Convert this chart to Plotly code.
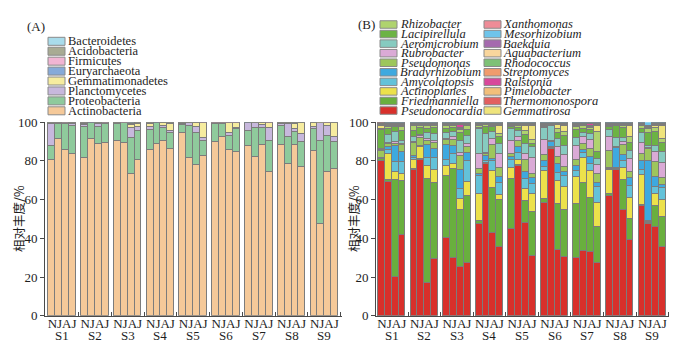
import plotly.graph_objects as go

# ---------------- data ----------------
sites = ["S1", "S2", "S3", "S4", "S5", "S6", "S7", "S8", "S9"]
months = "NJAJ"

# Panel A: phyla (legend order, top -> bottom)
phyla = ["Bacteroidetes", "Acidobacteria", "Firmicutes", "Euryarchaeota",
         "Gemmatimonadetes", "Planctomycetes", "Proteobacteria", "Actinobacteria"]
Actinobacteria = [80.5, 91.3, 85.7, 83.5, 81.4, 91.3, 88.7, 89.2, 90.3, 89.2, 73.0, 80.3,
                  85.4, 88.5, 90.3, 86.1, 94.4, 81.4, 77.9, 82.3, 89.7, 92.2, 85.4, 84.7,
                  87.8, 81.7, 88.3, 74.1, 88.2, 78.3, 88.3, 76.7, 84.9, 47.5, 74.1, 75.7]
Proteobacteria = [7.3, 7.7, 13.3, 14.4, 16.2, 8.0, 8.9, 9.8, 8.5, 10.1, 18.7, 14.8,
                  10.4, 10.8, 6.6, 8.4, 4.0, 16.5, 16.5, 7.8, 9.4, 6.9, 7.6, 11.5,
                  7.5, 15.3, 8.7, 16.3, 9.7, 13.9, 6.5, 13.0, 11.3, 42.6, 18.9, 14.0]
Planctomycetes = [11.0, 0.2, 0.4, 0.9, 1.0, 0.2, 1.2, 0.3, 0.5, 0.2, 5.3, 2.3,
                  1.8, 0.2, 1.0, 0.8, 0.6, 1.4, 3.2, 1.7, 0.3, 0.3, 1.4, 0.6,
                  4.3, 2.3, 1.4, 6.6, 1.0, 6.9, 1.7, 4.2, 1.4, 9.5, 4.9, 2.5]
Gemmatimonadetes = [0.7, 0.2, 0.2, 0.5, 0.6, 0.2, 0.6, 0.3, 0.2, 0.1, 1.6, 1.4,
                    1.2, 0.2, 1.4, 3.7, 0.4, 0.2, 1.7, 7.8, 0.2, 0.2, 5.2, 2.8,
                    0.1, 0.2, 1.1, 2.6, 0.6, 0.4, 2.7, 5.4, 1.8, 0.2, 1.7, 7.1]
Euryarchaeota = [0.1, 0.1, 0.1, 0.2, 0.2, 0.1, 0.1, 0.1, 0.1, 0.1, 0.3, 0.3,
                 0.3, 0.1, 0.2, 0.2, 0.1, 0.1, 0.2, 0.1, 0.1, 0.1, 0.1, 0.1,
                 0.1, 0.1, 0.1, 0.1, 0.1, 0.1, 0.2, 0.2, 0.1, 0.1, 0.1, 0.2]
Firmicutes = [0.1, 0.1, 0.1, 0.1, 0.2, 0.1, 0.1, 0.1, 0.1, 0.1, 0.3, 0.2,
              0.2, 0.1, 0.1, 0.2, 0.1, 0.1, 0.1, 0.1, 0.1, 0.1, 0.1, 0.1,
              0.1, 0.1, 0.1, 0.1, 0.1, 0.1, 0.2, 0.1, 0.1, 0.0, 0.1, 0.1]
Acidobacteria = [0.2, 0.3, 0.1, 0.3, 0.3, 0.1, 0.3, 0.1, 0.2, 0.1, 0.5, 0.5,
                 0.5, 0.1, 0.3, 0.4, 0.3, 0.2, 0.3, 0.1, 0.1, 0.1, 0.1, 0.1,
                 0.1, 0.2, 0.2, 0.1, 0.2, 0.2, 0.3, 0.3, 0.3, 0.1, 0.1, 0.3]
Bacteroidetes = [0.1, 0.1, 0.1, 0.1, 0.1, 0.0, 0.1, 0.1, 0.1, 0.1, 0.3, 0.2,
                 0.2, 0.0, 0.1, 0.2, 0.1, 0.1, 0.1, 0.1, 0.1, 0.1, 0.1, 0.1,
                 0.0, 0.1, 0.1, 0.1, 0.1, 0.1, 0.1, 0.1, 0.1, 0.0, 0.1, 0.1]

# Panel B: genera (legend columns, top -> bottom)
genera_col1 = ["Rhizobacter", "Lacipirellula", "Aeromicrobium", "Rubrobacter", "Pseudomonas",
               "Bradyrhizobium", "Amycolatopsis", "Actinoplanes", "Friedmanniella", "Pseudonocardia"]
genera_col2 = ["Xanthomonas", "Mesorhizobium", "Baekduia", "Aquabacterium", "Rhodococcus",
               "Streptomyces", "Ralstonia", "Pimelobacter", "Thermomonospora", "Gemmatirosa"]

Pseudonocardia = [81.2, 69.5, 20.0, 41.9, 75.2, 80.9, 16.9, 29.5, 40.7, 30.3, 25.2, 27.2,
                  47.6, 78.6, 42.8, 35.2, 45.0, 77.8, 47.6, 30.3, 57.9, 86.7, 33.8, 30.3,
                  29.5, 33.8, 32.9, 26.9, 61.7, 75.5, 54.8, 39.3, 57.4, 47.6, 45.5, 35.5]
Friedmanniella = [0.9, 1.4, 50.0, 28.4, 0.5, 0.5, 54.0, 39.3, 32.8, 46.6, 29.0, 35.0,
                  1.5, 0.3, 23.4, 24.5, 25.9, 0.5, 11.2, 22.4, 1.7, 0.2, 24.1, 24.1,
                  27.6, 35.3, 28.4, 19.0, 1.2, 0.3, 16.0, 10.9, 0.5, 0.3, 10.7, 15.2]
Actinoplanes = [0.3, 13.3, 4.3, 3.6, 4.7, 6.3, 6.4, 6.7, 5.2, 2.6, 6.0, 6.9,
                14.0, 0.3, 9.0, 2.5, 5.7, 2.5, 6.4, 9.5, 14.7, 0.3, 12.0, 12.0,
                13.8, 12.9, 13.8, 12.0, 12.4, 0.3, 6.0, 11.2, 15.5, 0.3, 6.0, 9.0]
Amycolatopsis = [0.3, 2.0, 5.0, 6.4, 1.0, 0.3, 4.5, 6.0, 3.4, 5.0, 5.0, 11.2,
                 9.5, 1.2, 5.2, 6.0, 4.0, 4.0, 5.0, 5.0, 2.0, 0.5, 4.0, 6.0,
                 3.4, 3.0, 4.0, 8.6, 0.5, 0.5, 4.0, 6.0, 2.5, 0.5, 3.6, 6.0]
Bradyrhizobium = [0.3, 1.7, 8.6, 5.2, 1.2, 0.3, 6.5, 5.0, 7.5, 4.5, 10.0, 4.0,
                  1.0, 2.5, 1.0, 3.0, 1.7, 3.0, 4.0, 2.8, 3.0, 2.5, 4.6, 2.0,
                  2.6, 1.5, 3.5, 1.7, 0.5, 10.0, 3.0, 4.3, 5.0, 31.5, 5.0, 1.7]
Pseudomonas = [3.6, 1.5, 1.0, 3.4, 6.5, 4.0, 2.0, 3.0, 2.6, 3.0, 7.0, 3.0,
               2.6, 1.0, 6.9, 5.0, 1.5, 3.0, 6.0, 2.0, 3.0, 0.3, 4.0, 2.5,
               3.0, 3.0, 4.0, 5.0, 9.0, 0.5, 5.0, 3.0, 3.5, 6.0, 7.8, 3.5]
Rubrobacter = [0.3, 0.5, 0.8, 0.5, 0.8, 1.0, 1.0, 1.0, 1.0, 1.5, 1.7, 2.0,
               7.8, 0.6, 3.4, 7.0, 6.9, 2.0, 3.0, 8.6, 7.8, 0.3, 5.2, 6.0,
               6.9, 3.5, 5.0, 4.3, 7.0, 0.3, 1.5, 7.0, 5.5, 0.5, 5.2, 7.8]
Aeromicrobium = [0.5, 4.3, 5.2, 1.5, 2.5, 0.4, 3.0, 3.5, 3.0, 2.5, 6.0, 4.0,
                 12.9, 10.0, 3.4, 5.0, 6.0, 3.0, 5.0, 5.2, 6.0, 7.8, 4.0, 5.0,
                 4.3, 2.5, 3.0, 3.0, 4.0, 4.8, 2.5, 4.0, 5.5, 1.0, 3.0, 6.0]
Lacipirellula = [10.0, 3.4, 2.6, 5.2, 3.0, 4.0, 2.5, 3.0, 2.0, 2.5, 4.0, 3.0,
                 0.5, 3.4, 2.6, 4.0, 1.0, 2.0, 5.0, 2.0, 0.5, 0.3, 3.0, 5.0,
                 4.3, 2.0, 2.0, 4.0, 1.5, 6.0, 5.0, 4.0, 2.0, 7.0, 6.9, 4.3]
Rhizobacter = [0.5, 1.0, 0.5, 2.5, 2.5, 1.0, 1.5, 1.3, 1.5, 1.0, 1.5, 2.0,
               1.0, 1.0, 0.5, 1.5, 0.8, 1.0, 2.0, 2.0, 0.5, 0.3, 2.0, 2.0,
               1.5, 1.5, 1.0, 10.0, 0.5, 0.5, 1.0, 3.0, 1.5, 2.0, 2.0, 2.0]
Gemmatirosa = [1.7, 0.4, 0.3, 0.4, 0.3, 0.3, 0.3, 0.3, 0.3, 0.3, 0.5, 0.3,
               0.3, 0.2, 0.3, 4.0, 0.3, 0.2, 2.5, 7.0, 0.3, 0.2, 2.0, 3.0,
               0.5, 0.3, 0.5, 3.0, 0.3, 0.2, 0.3, 6.0, 0.3, 0.2, 1.5, 6.9]
Thermomonospora = [0.2, 0.3, 0.2, 0.2, 0.2, 0.1, 0.2, 0.2, 0.2, 0.2, 0.3, 0.2,
                   0.2, 0.2, 0.3, 0.2, 0.2, 0.2, 0.3, 0.2, 0.3, 0.1, 0.2, 0.3,
                   0.2, 0.2, 0.3, 0.2, 0.2, 0.1, 0.2, 0.2, 0.2, 0.2, 0.2, 0.3]
Pimelobacter = [0.3, 0.2, 0.2, 0.3, 0.2, 0.2, 0.2, 0.2, 0.3, 0.2, 0.2, 0.2,
                0.3, 0.2, 0.2, 0.3, 0.2, 0.2, 0.3, 0.3, 0.2, 0.2, 0.2, 0.3,
                0.3, 0.2, 0.2, 0.3, 0.2, 0.2, 0.3, 0.2, 0.3, 0.1, 0.2, 0.2]
Ralstonia = [0.3, 0.2, 0.1, 0.2, 0.1, 0.2, 0.1, 0.1, 0.2, 0.1, 2.0, 0.2,
             0.1, 0.1, 0.2, 0.3, 0.1, 0.1, 0.2, 0.2, 0.1, 0.1, 0.2, 0.4,
             0.2, 0.2, 1.0, 0.4, 0.1, 0.1, 0.1, 0.3, 0.1, 0.1, 0.2, 0.3]
Streptomyces = [0.2, 0.2, 0.2, 0.2, 0.2, 0.1, 0.1, 0.2, 0.1, 0.2, 0.2, 0.2,
                0.2, 0.1, 0.2, 0.2, 0.2, 0.2, 0.2, 0.2, 0.2, 0.1, 0.2, 0.2,
                0.2, 0.1, 0.2, 0.2, 0.2, 0.1, 0.2, 0.2, 0.2, 0.1, 0.2, 0.2]
Rhodococcus = [0.2, 0.2, 0.3, 0.2, 0.2, 0.2, 0.2, 0.2, 0.2, 0.2, 0.2, 0.2,
               0.2, 0.2, 0.2, 0.2, 0.2, 0.2, 0.2, 0.2, 0.2, 0.1, 0.2, 0.2,
               0.2, 0.2, 0.2, 0.2, 0.2, 0.2, 0.2, 0.2, 0.2, 0.2, 0.2, 0.2]
Aquabacterium = [0.3, 0.2, 0.2, 0.3, 0.3, 0.2, 0.2, 0.2, 0.3, 0.2, 0.3, 0.2,
                 0.3, 0.2, 0.2, 0.2, 0.2, 0.2, 0.3, 0.2, 0.3, 0.1, 0.2, 0.2,
                 0.2, 0.2, 0.2, 0.3, 0.2, 0.2, 0.2, 0.2, 0.3, 0.2, 0.2, 0.2]
Baekduia = [0.2, 0.3, 0.2, 0.2, 0.2, 0.2, 0.2, 0.2, 0.2, 0.2, 0.2, 0.3,
            0.2, 0.2, 0.2, 0.3, 0.2, 0.2, 0.2, 0.3, 0.2, 0.1, 0.2, 0.3,
            0.2, 0.2, 0.2, 0.3, 0.2, 0.1, 0.2, 0.3, 0.2, 0.2, 0.2, 0.3]
Mesorhizobium = [0.2, 0.2, 0.2, 0.2, 0.2, 0.2, 0.2, 0.2, 0.2, 0.2, 0.2, 0.2,
                 0.2, 0.2, 0.2, 0.2, 0.2, 0.2, 0.2, 0.2, 0.2, 0.2, 0.2, 0.2,
                 0.2, 0.2, 0.2, 0.2, 0.2, 0.2, 0.2, 0.2, 0.2, 2.0, 0.2, 0.2]
Xanthomonas = [0.3, 0.2, 0.2, 0.2, 0.2, 0.2, 0.2, 0.2, 0.2, 0.2, 0.2, 0.2,
               0.2, 0.2, 0.2, 0.2, 0.2, 0.2, 0.2, 0.2, 0.2, 0.2, 0.2, 0.2,
               0.2, 0.2, 0.2, 0.2, 0.2, 0.2, 0.2, 0.2, 0.2, 0.2, 0.2, 0.2]

y_ticks = [0, 20, 40, 60, 80, 100]
y_title = "相对丰度/%"

# ---------------- styles ----------------
colors_A = {
    "Bacteroidetes": "#A9DCEB", "Acidobacteria": "#A8AB93", "Firmicutes": "#F1B5D3",
    "Euryarchaeota": "#86AAD9", "Gemmatimonadetes": "#F6EC9F", "Planctomycetes": "#C7B8DD",
    "Proteobacteria": "#8FCA9C", "Actinobacteria": "#F5C999",
}
colors_B = {
    "Rhizobacter": "#AFD36E", "Lacipirellula": "#6CB344", "Aeromicrobium": "#86CBC0",
    "Rubrobacter": "#DAAAD6", "Pseudomonas": "#9DC65C", "Bradyrhizobium": "#3EA9DF",
    "Amycolatopsis": "#63C2D9", "Actinoplanes": "#ECE14B", "Friedmanniella": "#69AF3E",
    "Pseudonocardia": "#D8302B", "Xanthomonas": "#EE8C97", "Mesorhizobium": "#6EC4EA",
    "Baekduia": "#A56AAE", "Aquabacterium": "#F9D69D", "Rhodococcus": "#7EC176",
    "Streptomyces": "#F09B6D", "Ralstonia": "#D8489B", "Pimelobacter": "#F2BF7A",
    "Thermomonospora": "#E26060", "Gemmatirosa": "#EFE47C",
}
data_A = {n: globals()[n] for n in phyla}
data_B = {n: globals()[n] for n in genera_col1 + genera_col2}

W, H = 683, 345
def px(x): return x / W
def py(y): return 1 - y / H

SERIF = "Liberation Serif"
TXT = "#1e1e1e"
AX = "#4a4a4a"
EDGE = "#7c7c7c"

PITCH = 4.75
xs = [g * PITCH + j + 0.5 for g in range(len(sites)) for j in range(len(months))]
centers = [g * PITCH + 2 for g in range(len(sites))]
gaps = [g * PITCH + 4.375 for g in range(len(sites))]

fig = go.Figure()
for name in reversed(phyla):
    fig.add_trace(go.Bar(x=xs, y=data_A[name], width=1, name=name, showlegend=False,
                         marker=dict(color=colors_A[name], line=dict(color=EDGE, width=1.3)),
                         xaxis="x", yaxis="y"))
for name in list(reversed(genera_col1)) + list(reversed(genera_col2)):
    fig.add_trace(go.Bar(x=xs, y=data_B[name], width=1, name=name, showlegend=False,
                         marker=dict(color=colors_B[name], line=dict(color=EDGE, width=1.3)),
                         xaxis="x2", yaxis="y2"))

ydom = [py(315.7), py(122.2)]
def xax(domain, rng, anchor):
    return dict(domain=domain, range=rng, anchor=anchor, showline=True, linecolor=AX,
                linewidth=1, tickvals=centers, ticktext=[months] * len(sites), ticks="",
                ticklabelstandoff=-4,
                tickfont=dict(family=SERIF, size=13, color=TXT), showgrid=False,
                zeroline=False, automargin=False, fixedrange=True,
                minor=dict(tickmode="array", tickvals=gaps, ticks="inside", ticklen=4,
                           tickcolor=AX, tickwidth=1, showgrid=False))
def yax(anchor):
    return dict(domain=ydom, range=[0, 100], anchor=anchor, showline=True, linecolor=AX,
                linewidth=1, tickvals=y_ticks, ticks="outside", ticklen=4, tickcolor=AX,
                tickfont=dict(family=SERIF, size=13, color=TXT), showgrid=False,
                zeroline=False, automargin=False, fixedrange=True)

fig.update_layout(
    width=W, height=H, margin=dict(l=0, r=0, t=0, b=0),
    paper_bgcolor="white", plot_bgcolor="white",
    barmode="stack", barnorm="percent", bargap=0,
    xaxis=xax([px(45), px(341.6)], [-0.48, 42.5], "y"),
    yaxis=yax("x"),
    xaxis2=xax([px(376), px(668.8)], [-0.3, 42.4], "y2"),
    yaxis2=yax("x2"),
)

ann = []
shapes = []
# site labels under NJAJ
for xr in ("x", "x2"):
    for c, s in zip(centers, sites):
        ann.append(dict(x=c, y=py(335.5), xref=xr, yref="paper", text=s, showarrow=False,
                        xanchor="center", yanchor="middle", borderpad=0,
                        font=dict(family=SERIF, size=13, color=TXT)))
# y titles
for xp in (18, 353):
    ann.append(dict(x=px(xp), y=py(219), xref="paper", yref="paper", text=y_title,
                    textangle=-90, showarrow=False, xanchor="center", yanchor="middle",
                    font=dict(family="Noto Sans CJK SC", size=12.5, color=TXT)))
# panel letters
ann.append(dict(x=px(25), y=py(26.5), xref="paper", yref="paper", text="(A)", showarrow=False,
                xanchor="left", yanchor="middle", font=dict(family=SERIF, size=13, color=TXT)))
ann.append(dict(x=px(356), y=py(25), xref="paper", yref="paper", text="(B)", showarrow=False,
                xanchor="left", yanchor="middle", font=dict(family=SERIF, size=13, color=TXT)))

def legend_block(names, cmap, sx0, sx1, tx, yc0, pitch, sh, italic):
    for i, n in enumerate(names):
        yc = yc0 + i * pitch
        shapes.append(dict(type="rect", xref="paper", yref="paper",
                           x0=px(sx0), x1=px(sx1), y0=py(yc + sh / 2), y1=py(yc - sh / 2),
                           fillcolor=cmap[n], line=dict(color="#8a8a8a", width=1)))
        ann.append(dict(x=px(tx), y=py(yc), xref="paper", yref="paper",
                        text=f"<i>{n}</i>" if italic else n, showarrow=False,
                        xanchor="left", yanchor="middle", borderpad=0,
                        font=dict(family=SERIF, size=12.5, color=TXT)))

legend_block(phyla, colors_A, 48, 65, 67, 41.3, 9.93, 8, False)
legend_block(genera_col1, colors_B, 380, 397, 399, 24.5, 9.56, 7.5, True)
legend_block(genera_col2, colors_B, 484, 501, 502, 24.5, 9.56, 7.5, True)

fig.update_layout(annotations=ann, shapes=shapes)
fig.write_html("out.html")
